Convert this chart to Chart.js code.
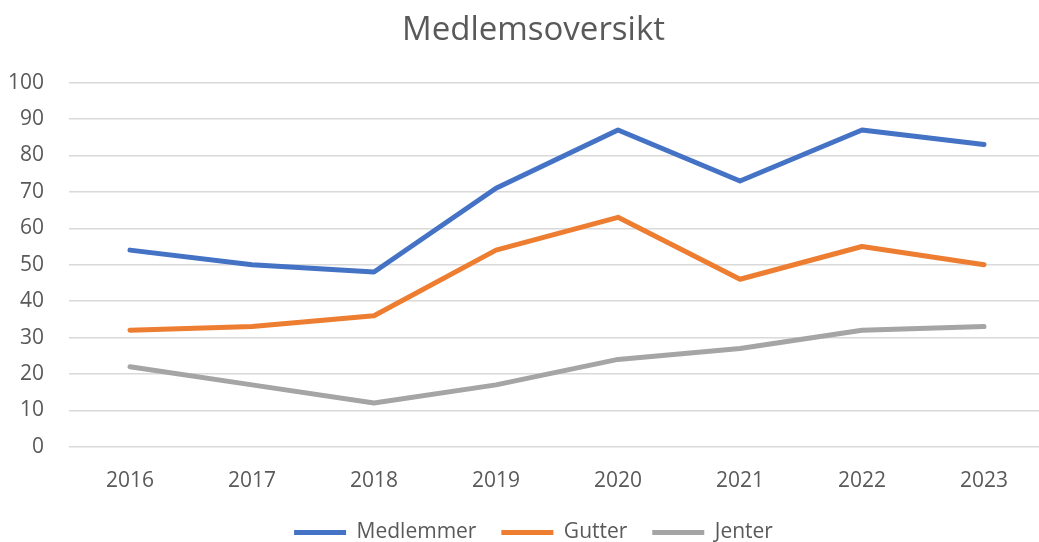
<!DOCTYPE html>
<html>
<head>
<meta charset="utf-8">
<script src="https://cdn.jsdelivr.net/npm/chart.js@4"></script>
<style>
  html, body { margin: 0; padding: 0; background: #fff; overflow: hidden; }
  .wrap { width: 1045px; height: 553px; position: relative; }
</style>
</head>
<body>
<div class="wrap"><canvas id="memberChart"></canvas></div>
<script>
// colors
var blue = '#4472C4';
var orange = '#ED7D31';
var grey = '#A5A5A5';
var textGrey = '#595959';

// data
const years = ['2016', '2017', '2018', '2019', '2020', '2021', '2022', '2023'];
const medlemmer = [54, 50, 48, 71, 87, 73, 87, 83];
const gutter = [32, 33, 36, 54, 63, 46, 55, 50];
const jenter = [22, 17, 12, 17, 24, 27, 32, 33];

function line(label, data, color) {
  return {
    label: label,
    data: data,
    borderColor: color,
    backgroundColor: color,
    borderWidth: 5,
    borderCapStyle: 'round',
    borderJoinStyle: 'round',
    pointRadius: 0,
    tension: 0
  };
}

// let the y tick labels reach into the left padding
const noLabelClip = {
  id: 'noLabelClip',
  afterLayout: function (chart) {
    chart.scales.y._computeLabelArea = function () { return undefined; };
  }
};

new Chart(document.getElementById('memberChart'), {
  type: 'line',
  data: {
    labels: years,
    datasets: [
      line('Medlemmer', medlemmer, blue),
      line('Gutter', gutter, orange),
      line('Jenter', jenter, grey)
    ]
  },
  plugins: [noLabelClip],
  options: {
    responsive: true,
    maintainAspectRatio: false,
    animation: false,
    layout: { padding: { top: 11, left: 22, right: 0, bottom: 0 } },
    plugins: {
      title: {
        display: true,
        text: 'Medlemsoversikt',
        color: textGrey,
        font: { family: 'Open Sans', size: 33, weight: 'normal' },
        padding: { top: 0, bottom: 32 },
        align: 'center'
      },
      legend: {
        position: 'bottom',
        labels: {
          color: textGrey,
          font: { family: 'Open Sans', size: 21 },
          usePointStyle: true,
          pointStyle: 'line',
          pointStyleWidth: 52,
          padding: 14,
          generateLabels: function (chart) {
            const items = Chart.defaults.plugins.legend.labels.generateLabels(chart);
            // a bit more room between legend entries
            items.forEach(function (item, i) {
              if (i < items.length - 1) item.text += '\u00a0\u00a0';
            });
            return items;
          }
        }
      },
      tooltip: { enabled: false }
    },
    scales: {
      x: {
        offset: true,
        grid: { display: false },
        border: { display: false },
        ticks: {
          color: textGrey,
          font: { family: 'Open Sans', size: 21 },
          padding: 14
        }
      },
      y: {
        min: 0,
        max: 100,
        afterFit: function (scale) { scale.width = 47; },
        grid: { color: '#D9D9D9', lineWidth: 1.5, drawTicks: false },
        border: { display: false },
        ticks: {
          stepSize: 10,
          color: textGrey,
          font: { family: 'Open Sans', size: 21 },
          padding: 25
        }
      }
    }
  }
});
</script>
</body>
</html>
